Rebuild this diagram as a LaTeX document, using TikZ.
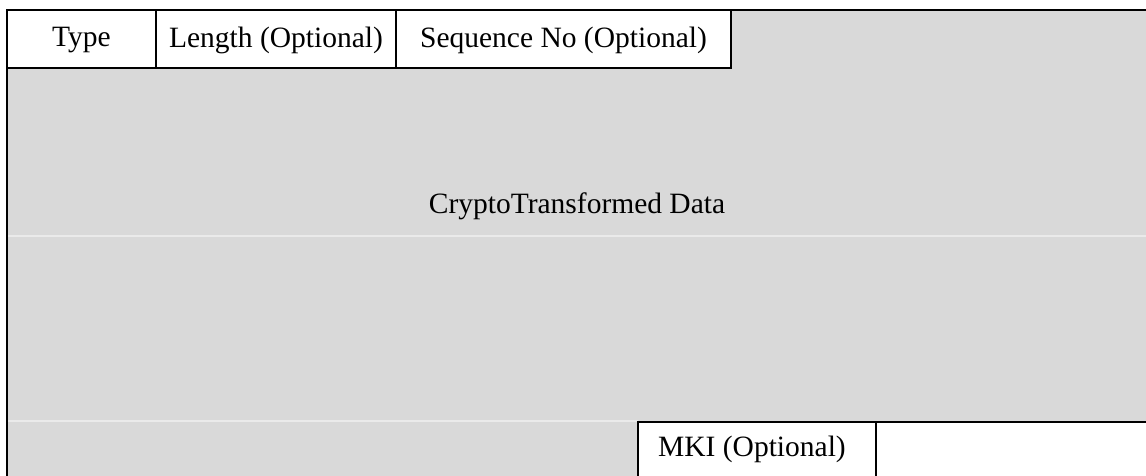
\documentclass[tikz,border=0pt]{standalone}
\usepackage{fontspec}
\setmainfont{Liberation Serif}
\definecolor{fillgray}{HTML}{D9D9D9}
\definecolor{faint}{HTML}{EAEAEA}
\tikzset{
  field/.style={draw=black, line width=2.5pt, fill=white, inner sep=0pt},
  lbl/.style={font=\fontsize{29.5}{34}\selectfont, text=black, inner sep=0pt},
  rule/.style={line width=2.5pt},
}
\begin{document}
\begin{tikzpicture}[x=1pt,y=-1pt]
\useasboundingbox (0,0) rectangle (1146,476);
% gray body
\fill[fillgray] (7,10) rectangle (1146,476);
% faint separator lines
\draw[faint, line width=1.2pt] (7,236) -- (1146,236);
\draw[faint, line width=1.2pt] (7,421) -- (638,421);
% outer borders
\draw[rule] (7,476) -- (7,10) -- (1146,10);
% top fields
\draw[field] (7,10) rectangle (156,68);
\draw[field] (156,10) rectangle (396,68);
\draw[field] (396,10) rectangle (731,68);
\node[lbl] (type) at (81.5,40) {Type};
\node[lbl] (len) at (276,40) {Length (Optional)};
\node[lbl] (seq) at (563.5,40) {Sequence No (Optional)};
% main data label
\node[lbl, anchor=base] (data) at (577,213) {CryptoTransformed Data};
% bottom fields
\fill[white] (638,422) rectangle (1146,476);
\draw[rule] (638,476) -- (638,422) -- (1146,422);
\draw[rule] (876,422) -- (876,476);
\node[lbl] (mki) at (752,449) {MKI (Optional)};
\end{tikzpicture}
\end{document}
